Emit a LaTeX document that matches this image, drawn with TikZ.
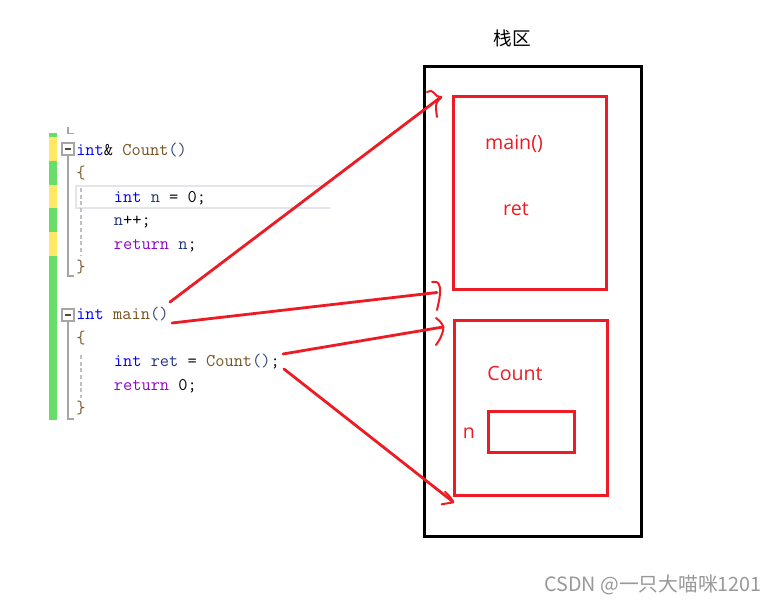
\documentclass[tikz,border=0pt]{standalone}
\usepackage{fontspec}
\setmainfont{Open Sans}
\newfontfamily\cjk{Noto Sans CJK SC}
\definecolor{pred}{RGB}{237,28,36}
\definecolor{kwblue}{RGB}{0,0,255}
\definecolor{fnbrown}{RGB}{116,83,31}
\definecolor{varblue}{RGB}{31,55,127}
\definecolor{ctrlpurple}{RGB}{143,8,196}
\definecolor{parencol}{RGB}{50,70,120}
\definecolor{bracecol}{RGB}{120,90,40}
\definecolor{gutgreen}{RGB}{104,222,104}
\definecolor{gutyellow}{RGB}{255,232,100}
\definecolor{foldgray}{RGB}{165,165,165}
\definecolor{hlgray}{RGB}{228,228,236}
\newcommand\kw[1]{\textcolor{kwblue}{#1}}
\newcommand\fnc[1]{\textcolor{fnbrown}{#1}}
\newcommand\vr[1]{\textcolor{varblue}{#1}}
\newcommand\ctl[1]{\textcolor{ctrlpurple}{#1}}
\newcommand\pa[1]{\textcolor{parencol}{#1}}
\newcommand\brc[1]{\textcolor{bracecol}{#1}}
\newcommand\spc{\phantom{0}}
\tikzset{
  codeline/.style={anchor=base west, inner sep=0pt, font=\fontsize{13.43}{16}\selectfont\ttfamily},
  redlabel/.style={text=pred, inner sep=0pt, font=\fontsize{14.7}{17}\selectfont},
  redbox/.style={draw=pred, line width=2.25pt},
  stackbox/.style={draw=black, line width=2.25pt},
  shaft/.style={draw=pred, line width=2.1pt, line cap=round},
  headline/.style={draw=pred, line width=1.5pt, line cap=round, line join=round},
  foldline/.style={draw=foldgray, line width=0.9pt},
}
\begin{document}
\begin{tikzpicture}[x=0.75pt,y=-0.75pt]
\useasboundingbox (0,0) rectangle (778,605);
\fill[white] (0,0) rectangle (778,605);

% gutter
\fill[gutgreen] (49,133) rectangle (57,137);
\fill[gutyellow] (49,137) rectangle (57,161);
\fill[gutgreen] (49,161) rectangle (57,185);
\fill[gutyellow] (49,185) rectangle (57,208);
\fill[gutgreen] (49,208) rectangle (57,232);
\fill[gutyellow] (49,232) rectangle (57,256);
\fill[gutgreen] (49,256) rectangle (57,420);

% current-line highlight
\draw[draw=hlgray, line width=1.5pt] (330,186) -- (76,186) -- (76,208) -- (330,208);

% fold markers
\draw[foldgray, line width=0.9pt] (68,127) -- (68,133.5) -- (74,133.5);
\node[draw=foldgray, line width=0.9pt, minimum width=9pt, minimum height=9pt, inner sep=0pt, fill=white] (fold1) at (68,149) {};
\draw[black!70, line width=1pt] (65,149) -- (71,149);
\draw[foldline] (fold1.south) -- (68,276) -- (74,276);
\draw[foldgray!70, line width=0.9pt, dash pattern=on 3pt off 2pt] (81,188) -- (81,256);
\node[draw=foldgray, line width=0.9pt, minimum width=9pt, minimum height=9pt, inner sep=0pt, fill=white] (fold2) at (68,315) {};
\draw[black!70, line width=1pt] (65,315) -- (71,315);
\draw[foldline] (fold2.south) -- (68,419) -- (74,419);
\draw[foldgray!70, line width=0.9pt, dash pattern=on 3pt off 2pt] (81,355) -- (81,398);

% code
\node[codeline] (c0) at (76,155.5) {\kw{int}\&\spc\fnc{Count}\pa{()}};
\node[codeline] (c1) at (76,179) {\brc{\{}};
\node[codeline] (c2) at (113.6,202.5) {\kw{int}\spc\vr{n}\spc=\spc0;};
\node[codeline] (c3) at (113.6,226) {\vr{n}++;};
\node[codeline] (c4) at (113.6,249.5) {\ctl{return}\spc\vr{n};};
\node[codeline] (c5) at (76,273) {\brc{\}}};
\node[codeline] (c7) at (76,320) {\kw{int}\spc\fnc{main}\pa{()}};
\node[codeline] (c8) at (76,343.5) {\brc{\{}};
\node[codeline] (c9) at (113.6,367) {\kw{int}\spc\vr{ret}\spc=\spc\fnc{Count}\pa{()};};
\node[codeline] (c10) at (113.6,390.5) {\ctl{return}\spc0;};
\node[codeline] (c11) at (76,414) {\brc{\}}};

% stack area
\node[font=\cjk\fontsize{14}{16}\selectfont, inner sep=0pt] (title) at (512,38) {栈区};
\draw[stackbox] (424,67) rectangle (641,536);
\draw[redbox] (453.7,97) rectangle (606.3,289.5);
\draw[redbox] (454.7,320.5) rectangle (607.8,495.3);
\draw[redbox] (488.7,412) rectangle (574.5,452.8);
\node[redlabel] (lmain) at (514,144) {main()};
\node[redlabel] (lret) at (516,209) {ret};
\node[redlabel] (lcount) at (515,374) {Count};
\node[redlabel] (ln) at (469,433.5) {n};

% arrows
\coordinate (s1) at (170,302);
\coordinate (t1) at (441,97);
\coordinate (s2) at (172,323);
\coordinate (t2) at (437,292.5);
\coordinate (s3) at (283,354);
\coordinate (t3) at (443,327);
\coordinate (s4) at (284,369);
\coordinate (t4) at (452,501);
\draw[shaft] (s1) -- (t1);
\draw[headline] plot[smooth] coordinates {(427,92) (431,91) (434,93) (437,96) (441,97)};
\draw[headline] plot[smooth] coordinates {(441,98) (437,102) (436,108) (437,117)};
\draw[shaft] (s2) -- (t2);
\draw[headline] plot[smooth] coordinates {(432,282) (437.5,282.5) (440,288) (439.5,298) (437,310)};
\draw[shaft] (s3) -- (t3);
\draw[headline] plot[smooth] coordinates {(436,318) (440,321.5) (443.3,326.7) (442.3,333.3) (439.3,340) (436,345)};
\draw[shaft] (s4) -- (t4);
\draw[headline] plot[smooth] coordinates {(445,491.7) (450,497) (453.3,501.7)};
\draw[headline] (441.7,504.3) -- (453.3,502.3);

% watermark
\node[anchor=east, inner sep=0pt, text=black!40, font=\cjk\fontsize{14.8}{16}\selectfont] (wm) at (762,585) {CSDN @一只大喵咪1201};
\end{tikzpicture}
\end{document}
